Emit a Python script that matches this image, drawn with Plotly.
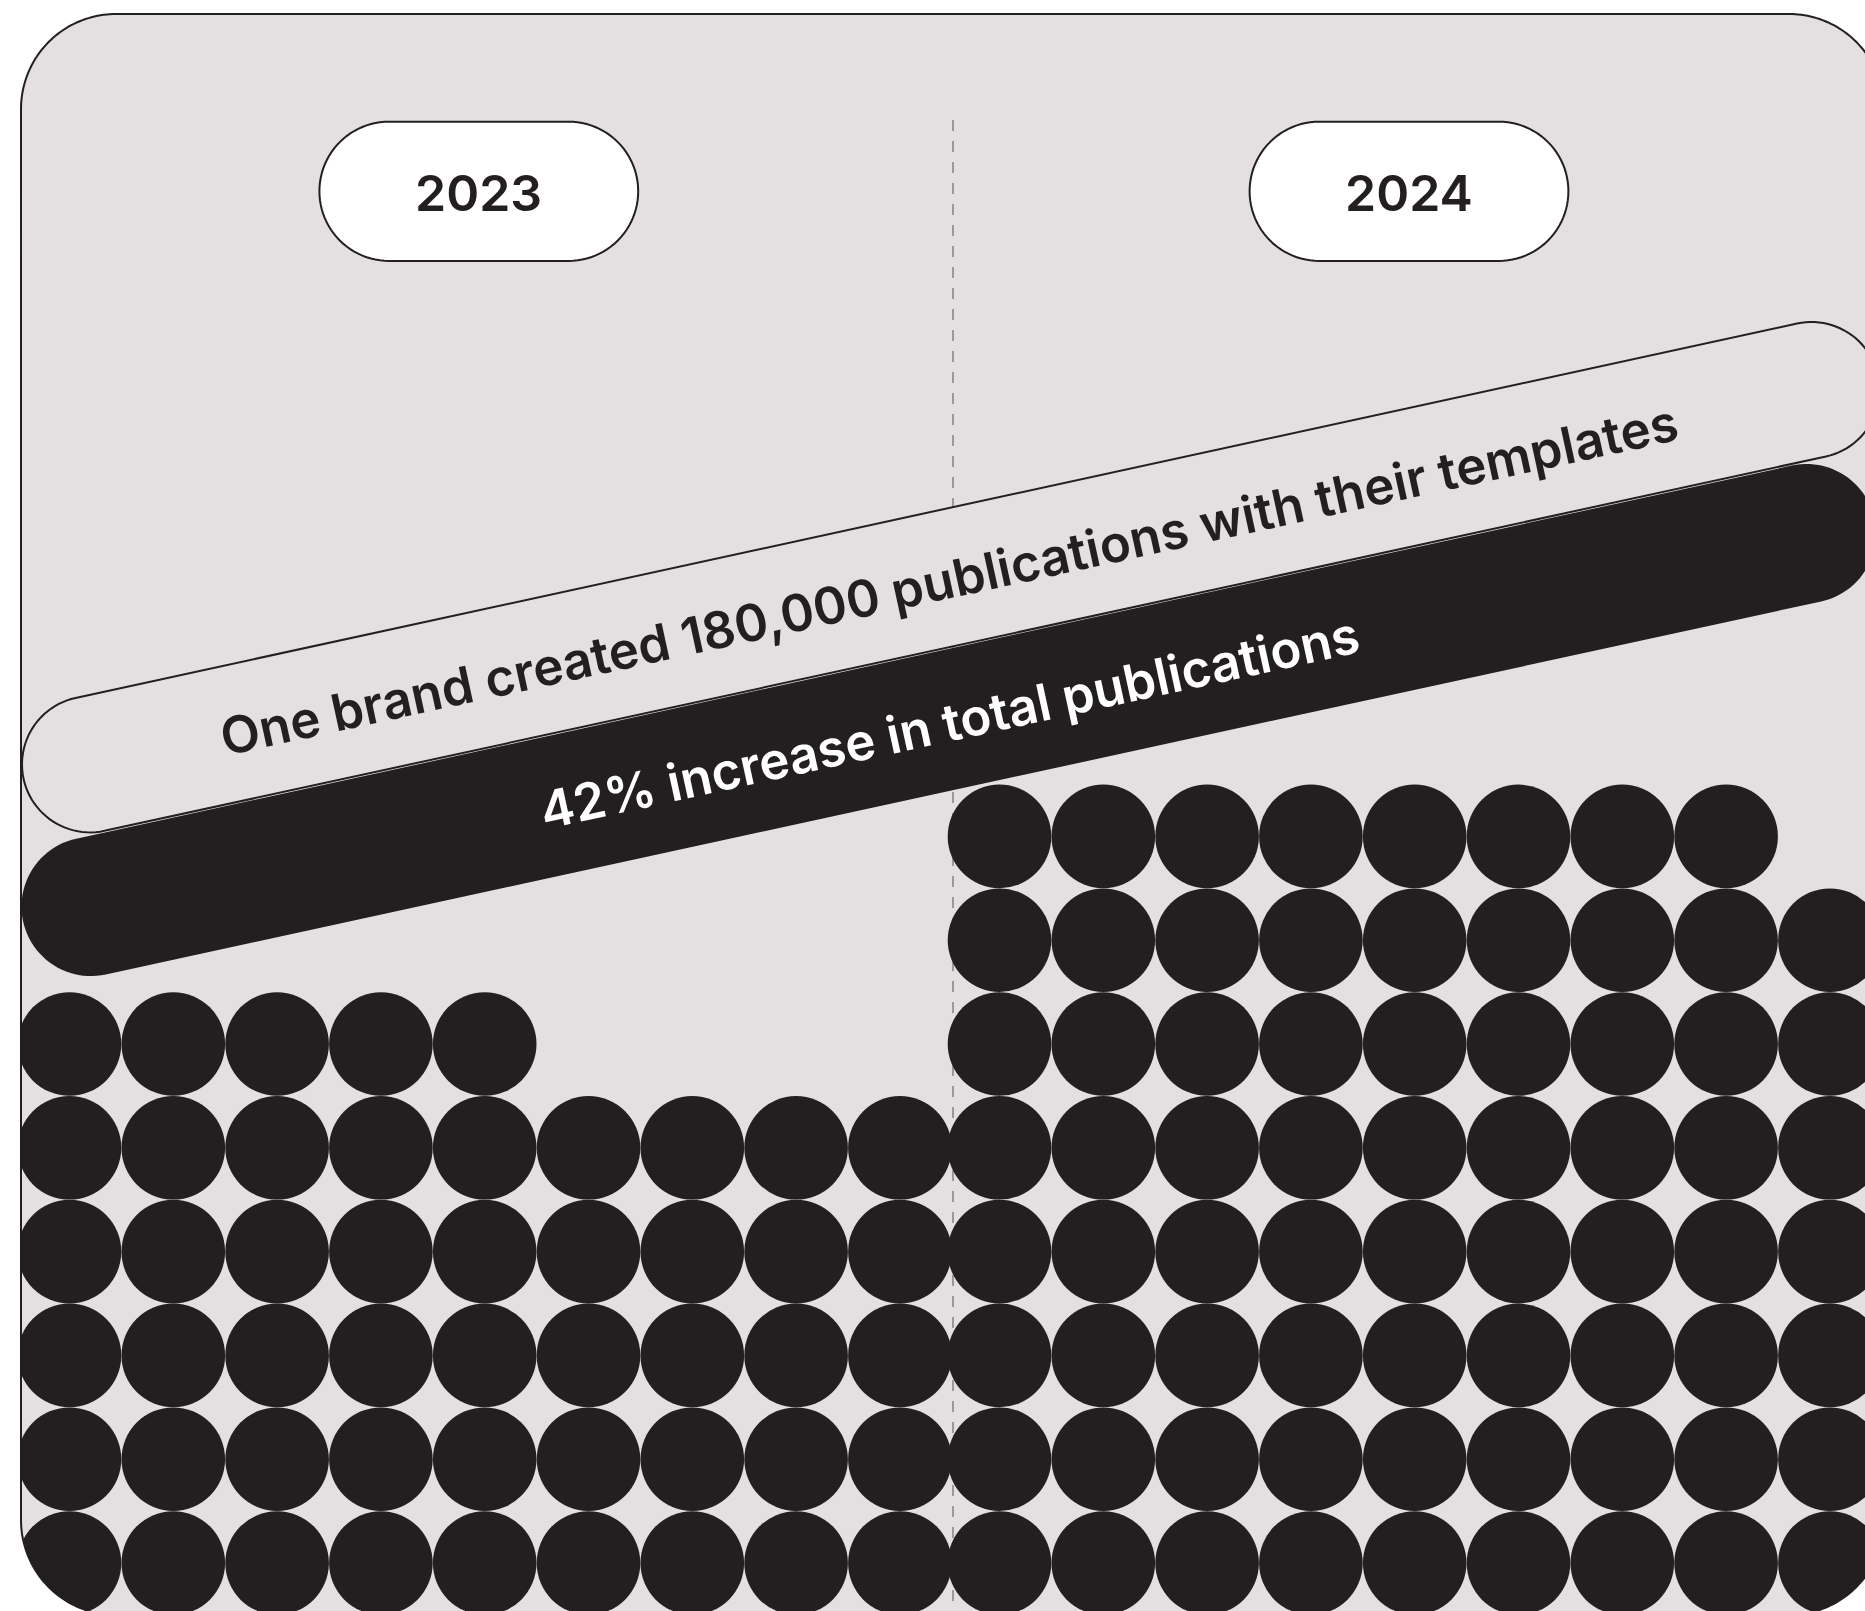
import math
import plotly.graph_objects as go

# ---------------- data ----------------
years = ["2023", "2024"]
dots = [50, 71]            # pictogram dots per year (71/50 = +42%)
dots_per_row = 9
headline = "One brand created 180,000 publications with their templates"
highlight = "42% increase in total publications"

# ---------------- style / layout ----------------
W, H = 1865, 1611
BG = "#e4dfe0"
INK = "#231f20"
FONT = "Inter"

SP = 103.8                 # dot pitch (px)
DOT = 103.6                # dot diameter (px)
col0 = {"2023": 69.5, "2024": 999.5}
row0_y = 1563.0            # centre of bottom row

px0, px1, py0, py1, PR = 21, 1884, 14, 1615, 95


def arc_pts(cx, cy, r, a0, a1, n=48):
    return [(cx + r * math.cos(a0 + (a1 - a0) * i / n),
             cy + r * math.sin(a0 + (a1 - a0) * i / n)) for i in range(n + 1)]


def path_from(pts):
    return "M " + " L ".join(f"{x:.2f},{y:.2f}" for x, y in pts) + " Z"


def pill(cl, cr, r, n=48):
    dx, dy = cr[0] - cl[0], cr[1] - cl[1]
    L = math.hypot(dx, dy)
    ux, uy = dx / L, dy / L
    nx, ny = uy, -ux          # normal pointing "up" on screen
    pts = [(cl[0] + r * nx, cl[1] + r * ny)]
    for i in range(n + 1):
        t = math.pi * i / n
        pts.append((cr[0] + r * (nx * math.cos(t) + ux * math.sin(t)),
                    cr[1] + r * (ny * math.cos(t) + uy * math.sin(t))))
    for i in range(n + 1):
        t = math.pi * i / n
        pts.append((cl[0] + r * (-nx * math.cos(t) - ux * math.sin(t)),
                    cl[1] + r * (-ny * math.cos(t) - uy * math.sin(t))))
    return path_from(pts)


def rounded_rect(x0, y0, x1, y1, r):
    pts = []
    pts += arc_pts(x1 - r, y0 + r, r, -math.pi / 2, 0)
    pts += arc_pts(x1 - r, y1 - r, r, 0, math.pi / 2)
    pts += arc_pts(x0 + r, y1 - r, r, math.pi / 2, math.pi)
    pts += arc_pts(x0 + r, y0 + r, r, math.pi, 1.5 * math.pi)
    return path_from(pts)


fig = go.Figure()

shapes = []
# panel background
shapes.append(dict(type="path", path=rounded_rect(px0, py0, px1, py1, PR),
                   fillcolor=BG, line=dict(width=0), layer="below"))
# dashed divider
shapes.append(dict(type="line", x0=953, x1=953, y0=120, y1=1620,
                   line=dict(color="#9b9899", width=2, dash="11px,10px"), layer="below"))

# year pills
pill_cx = {"2023": 478.8, "2024": 1409.0}
for yv in years:
    cx = pill_cx[yv]
    shapes.append(dict(type="path",
                       path=pill((cx - 89.8, 191.3), (cx + 89.8, 191.3), 69.6),
                       fillcolor="white", line=dict(color=INK, width=2), layer="below"))

# slanted bands
slope_cl_w, slope_cr_w = (90.0, 764.4), (1811.5, 390.0)
slope_cl_b, slope_cr_b = (91.0, 906.6), (1806.5, 533.5)
shapes.append(dict(type="path", path=pill(slope_cl_w, slope_cr_w, 68.0),
                   fillcolor=BG, line=dict(color=INK, width=2), layer="below"))
shapes.append(dict(type="path", path=pill(slope_cl_b, slope_cr_b, 69.5),
                   fillcolor=INK, line=dict(width=0), layer="below"))

# dots
for yv, n in zip(years, dots):
    xs, ys = [], []
    for k in range(n):
        r, c = divmod(k, dots_per_row)
        xs.append(col0[yv] + c * SP)
        ys.append(row0_y - r * SP)
    fig.add_trace(go.Scatter(x=xs, y=ys, mode="markers", name=yv,
                             marker=dict(size=DOT, color=INK, line=dict(width=0)),
                             hoverinfo="skip", showlegend=False, cliponaxis=True))

# masks outside rounded panel (white)
shapes.append(dict(type="rect", x0=-20, x1=px0, y0=-20, y1=1700,
                   fillcolor="white", line=dict(width=0), layer="above"))
corners = [
    ((px0 + PR, py0 + PR), math.pi, 1.5 * math.pi, (px0, py0)),
    ((px1 - PR, py0 + PR), -math.pi / 2, 0, (px1, py0)),
    ((px1 - PR, py1 - PR), 0, math.pi / 2, (px1, py1)),
    ((px0 + PR, py1 - PR), math.pi / 2, math.pi, (px0, py1)),
]
for (cx, cy), a0, a1, corner in corners:
    pts = arc_pts(cx, cy, PR, a0, a1) + [corner]
    shapes.append(dict(type="path", path=path_from(pts), fillcolor="white",
                       line=dict(width=0), layer="above"))
# panel border
shapes.append(dict(type="path", path=rounded_rect(px0, py0, px1, py1, PR),
                   fillcolor="rgba(0,0,0,0)", line=dict(color=INK, width=2), layer="above"))

angle = -math.degrees(math.atan2(slope_cl_w[1] - slope_cr_w[1], slope_cr_w[0] - slope_cl_w[0]))

annotations = []
for yv in years:
    annotations.append(dict(x=pill_cx[yv], y=193, xref="x", yref="y", text=yv,
                            showarrow=False, xanchor="center", yanchor="middle",
                            font=dict(family=FONT, size=50, color=INK, weight=600)))


def line_y(cl, cr, x):
    return cl[1] + (cr[1] - cl[1]) * (x - cl[0]) / (cr[0] - cl[0])


tx = 949
annotations.append(dict(x=tx, y=line_y(slope_cl_w, slope_cr_w, tx) + 2, xref="x", yref="y",
                        text=headline, showarrow=False, xanchor="center", yanchor="middle",
                        textangle=angle,
                        font=dict(family=FONT, size=51, color=INK, weight=600)))
annotations.append(dict(x=tx, y=line_y(slope_cl_b, slope_cr_b, tx) + 2, xref="x", yref="y",
                        text=highlight, showarrow=False, xanchor="center", yanchor="middle",
                        textangle=angle,
                        font=dict(family=FONT, size=51, color="white", weight=600)))

fig.update_layout(
    width=W, height=H, autosize=False,
    margin=dict(l=0, r=0, t=0, b=0, pad=0),
    paper_bgcolor="white", plot_bgcolor="rgba(0,0,0,0)",
    xaxis=dict(range=[0, W], visible=False, fixedrange=True),
    yaxis=dict(range=[H, 0], visible=False, fixedrange=True),
    shapes=shapes, annotations=annotations, showlegend=False,
)

fig.write_html(
    "out.html",
    config={"displayModeBar": False},
    post_script=("document.body.style.margin='0';"
                 "document.body.style.overflow='hidden';"
                 "document.documentElement.style.overflow='hidden';"),
)
